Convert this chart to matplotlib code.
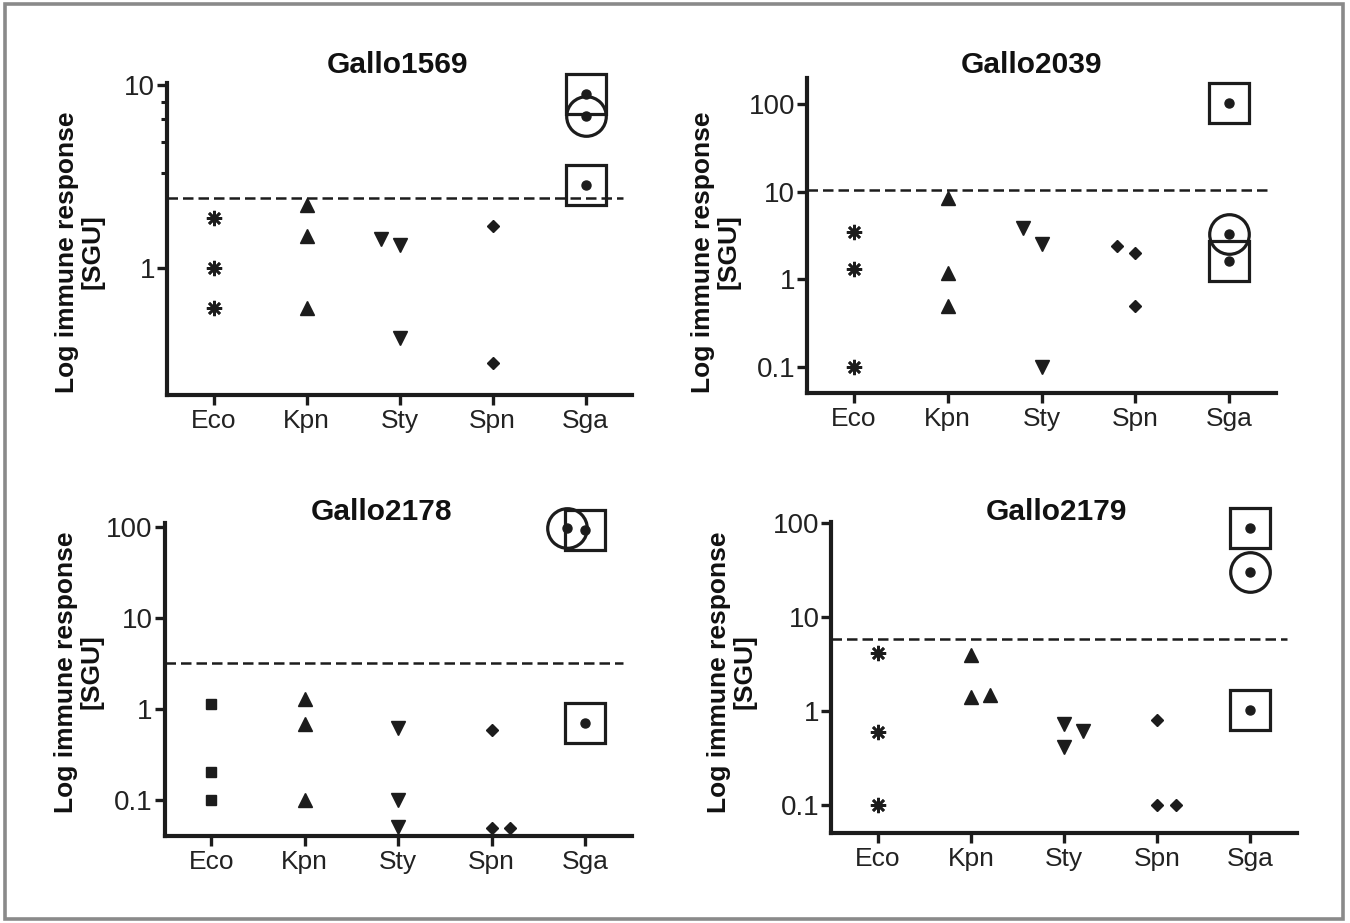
import matplotlib
matplotlib.use("Agg")
import matplotlib.pyplot as plt
from matplotlib.patches import Rectangle
from matplotlib.ticker import FixedLocator, NullFormatter, FuncFormatter

plt.rcParams['font.family'] = ['Liberation Sans', 'DejaVu Sans']

categories = ["Eco", "Kpn", "Sty", "Spn", "Sga"]

# ---------------- data ----------------
# Gallo1569
g1569_eco = [1.88, 1.0, 0.6]
g1569_kpn = [2.2, 1.5, 0.6]
g1569_sty = [1.43, 1.33, 0.41]
g1569_sty_side = [-1, 0, 0]
g1569_spn = [1.7, 0.30]
g1569_sga = [9.0, 6.8, 2.85]
g1569_sga_mark = ["box", "circle", "box"]
g1569_cut = 2.4

# Gallo2039
g2039_eco = [3.5, 1.3, 0.1]
g2039_kpn = [8.4, 1.17, 0.50]
g2039_sty = [3.9, 2.52, 0.1]
g2039_sty_side = [-1, 0, 0]
g2039_spn = [2.41, 1.97, 0.495]
g2039_spn_side = [-1, 0, 0]
g2039_sga = [103, 3.27, 1.62]
g2039_sga_mark = ["box", "circle", "box"]
g2039_cut = 10.5

# Gallo2178
g2178_eco = [1.12, 0.20, 0.1]
g2178_kpn = [1.27, 0.68, 0.1]
g2178_sty = [0.62, 0.1, 0.05]
g2178_spn = [0.59, 0.049, 0.049]
g2178_spn_side = [0, 0, 1]
g2178_sga = [97, 91, 0.70]
g2178_sga_side = [-1, 0, 0]
g2178_sga_mark = ["circle", "box", "box"]
g2178_cut = 3.16

# Gallo2179
g2179_eco = [4.15, 0.60, 0.1]
g2179_kpn = [3.99, 1.42, 1.47]
g2179_kpn_side = [0, 0, 1]
g2179_sty = [0.72, 0.41, 0.61]
g2179_sty_side = [0, 0, 1]
g2179_spn = [0.80, 0.1, 0.1]
g2179_spn_side = [0, 0, 1]
g2179_sga = [88, 30, 1.01]
g2179_sga_mark = ["box", "circle", "box"]
g2179_cut = 5.84

# ---------------- styling ----------------
W, H = 1350, 923
fig = plt.figure(figsize=(W / 100, H / 100), dpi=100)
INK = "#1c1c1c"
TXT = "#222222"
JIT = 0.2
ASTER = (8, 2, 0)


def px_axes(l, t, r, b):
    return fig.add_axes([l / W, (H - b) / H, (r - l) / W, (b - t) / H])


def scatter(ax, idx, vals, marker, size, side=None, mew=1.0):
    if side is None:
        side = [0] * len(vals)
    xs = [idx + s * JIT for s in side]
    ax.plot(xs, vals, linestyle="none", marker=marker, markersize=size,
            color=INK, markeredgecolor=INK, markeredgewidth=mew,
            clip_on=False, zorder=3)


def sga(ax, vals, marks, side=None):
    if side is None:
        side = [0] * len(vals)
    idx = categories.index("Sga")
    for v, m, s in zip(vals, marks, side):
        x = idx + s * JIT
        ax.plot([x], [v], linestyle="none", marker="o", markersize=6.5,
                color=INK, clip_on=False, zorder=4)
        ax.plot([x], [v], linestyle="none",
                marker="s" if m == "box" else "o", markersize=28.5,
                markerfacecolor="none", markeredgecolor=INK,
                markeredgewidth=2.3, clip_on=False, zorder=4)


def style(ax, ylim, majors, minors=()):
    ax.set_yscale("log")
    ax.set_ylim(*ylim)
    ax.set_xlim(-0.5, 4.5)
    for sp in ("top", "right"):
        ax.spines[sp].set_visible(False)
    for sp in ("left", "bottom"):
        ax.spines[sp].set_linewidth(3.0)
        ax.spines[sp].set_color(INK)
        ax.spines[sp].set_capstyle("projecting")
    ax.set_xticks(range(len(categories)))
    ax.set_xticklabels(categories, fontsize=19, color=TXT)
    ax.yaxis.set_major_locator(FixedLocator(majors))
    ax.yaxis.set_major_formatter(FuncFormatter(lambda v, p: f"{v:g}"))
    ax.yaxis.set_minor_locator(FixedLocator(list(minors)))
    ax.yaxis.set_minor_formatter(NullFormatter())
    ax.tick_params(axis="x", length=7, width=2.4, color=INK, pad=3)
    ax.tick_params(axis="y", which="major", length=7, width=2.4,
                   color=INK, pad=1.5, labelsize=20, labelcolor=TXT)
    ax.tick_params(axis="y", which="minor", length=4.5, width=2.2, color=INK)


def cutoff(ax, y):
    ax.hlines(y, -0.5, 4.4, colors=INK, linestyles=(0, (4.2, 2.0)),
              linewidth=1.8, zorder=2)


def labels(title, tx, ty, lx, ly):
    fig.text(tx / W, (H - ty) / H, title, ha="center", va="baseline",
             fontsize=21.5, fontweight="bold", color="#111111")
    fig.text(lx / W, (H - ly) / H, "Log immune response\n[SGU]",
             rotation=90, ha="center", va="center", multialignment="center",
             fontsize=19, fontweight="bold", color="#111111", linespacing=1.1)


# Panel 1: Gallo1569
ax1 = px_axes(167, 83, 632, 395)
style(ax1, (0.2, 10.3), [1, 10], [3.3, 4.9, 6.5, 8.1])
cutoff(ax1, g1569_cut)
scatter(ax1, 0, g1569_eco, ASTER, 11, mew=1.9)
scatter(ax1, 1, g1569_kpn, "^", 9.5)
scatter(ax1, 2, g1569_sty, "v", 9.5, g1569_sty_side)
scatter(ax1, 3, g1569_spn, "D", 6.4)
sga(ax1, g1569_sga, g1569_sga_mark)
labels("Gallo1569", 397, 73, 80, 252)

# Panel 2: Gallo2039
ax2 = px_axes(807, 78, 1276, 393)
style(ax2, (0.05, 200), [0.1, 1, 10, 100])
cutoff(ax2, g2039_cut)
scatter(ax2, 0, g2039_eco, ASTER, 11, mew=1.9)
scatter(ax2, 1, g2039_kpn, "^", 9.5)
scatter(ax2, 2, g2039_sty, "v", 9.5, g2039_sty_side)
scatter(ax2, 3, g2039_spn, "D", 6.4, g2039_spn_side)
sga(ax2, g2039_sga, g2039_sga_mark)
labels("Gallo2039", 1031, 73, 716, 252)

# Panel 3: Gallo2178
ax3 = px_axes(164.5, 523, 632, 836)
style(ax3, (0.04, 110), [0.1, 1, 10, 100])
cutoff(ax3, g2178_cut)
scatter(ax3, 0, g2178_eco, "s", 7.5)
scatter(ax3, 1, g2178_kpn, "^", 9.5)
scatter(ax3, 2, g2178_sty, "v", 9.5)
scatter(ax3, 3, g2178_spn, "D", 6.4, g2178_spn_side)
sga(ax3, g2178_sga, g2178_sga_mark, g2178_sga_side)
labels("Gallo2178", 381, 520, 79, 672)

# Panel 4: Gallo2179
ax4 = px_axes(831.5, 522, 1296.5, 833)
style(ax4, (0.05, 103), [0.1, 1, 10, 100])
cutoff(ax4, g2179_cut)
scatter(ax4, 0, g2179_eco, ASTER, 11, mew=1.9)
scatter(ax4, 1, g2179_kpn, "^", 9.5, g2179_kpn_side)
scatter(ax4, 2, g2179_sty, "v", 9.5, g2179_sty_side)
scatter(ax4, 3, g2179_spn, "D", 6.4, g2179_spn_side)
sga(ax4, g2179_sga, g2179_sga_mark)
labels("Gallo2179", 1056, 520, 732, 672)

# outer frame
fig.patches.append(Rectangle((5 / W, 1 - 919 / H), (1343 - 5) / W, (919 - 4) / H,
                             transform=fig.transFigure, fill=False,
                             edgecolor="#8a8a8a", linewidth=2.6, zorder=10))

fig.savefig("out.png", dpi=100)
